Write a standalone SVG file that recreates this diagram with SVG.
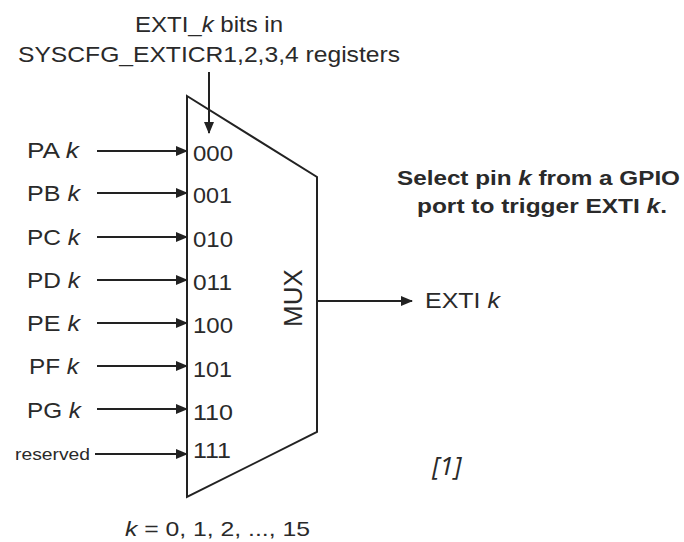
<svg xmlns="http://www.w3.org/2000/svg" width="684" height="542" viewBox="0 0 684 542">
<defs>
<marker id="ah" markerWidth="12" markerHeight="10" refX="11" refY="5" orient="auto" markerUnits="userSpaceOnUse">
<path d="M0,0 L12,5 L0,10 Z" fill="#222"/>
</marker>
<style>
text{font-family:"Liberation Sans",Arial,sans-serif;fill:#2a2a2a}
.lbl{font-size:22px}
.code{font-size:22px}
.ln{stroke:#222;stroke-width:2;fill:none}
.b{font-weight:bold;font-size:20px}
</style>
</defs>
<rect width="684" height="542" fill="#fff"/>
<g id="title">
<text x="135" y="32" style="font-size:22px" textLength="148" lengthAdjust="spacingAndGlyphs">EXTI_<tspan font-style="italic">k</tspan> bits in</text>
<text x="18" y="62" style="font-size:22px" textLength="382" lengthAdjust="spacingAndGlyphs">SYSCFG_EXTICR1,2,3,4 registers</text>
</g>
<g id="mux">
<path class="ln" d="M187,96 L317,177 L317,432 L187,497 Z"/>
<text transform="translate(302,298) rotate(-90)" text-anchor="middle" style="font-size:26px">MUX</text>
<text class="code" x="193" y="161" textLength="40" lengthAdjust="spacingAndGlyphs">000</text>
<text class="code" x="193" y="203" textLength="39" lengthAdjust="spacingAndGlyphs">001</text>
<text class="code" x="193" y="247" textLength="40" lengthAdjust="spacingAndGlyphs">010</text>
<text class="code" x="193" y="290" textLength="39" lengthAdjust="spacingAndGlyphs">011</text>
<text class="code" x="193" y="333" textLength="40" lengthAdjust="spacingAndGlyphs">100</text>
<text class="code" x="193" y="377" textLength="39" lengthAdjust="spacingAndGlyphs">101</text>
<text class="code" x="193" y="420" textLength="40" lengthAdjust="spacingAndGlyphs">110</text>
<text class="code" x="193" y="458" textLength="38" lengthAdjust="spacingAndGlyphs">111</text>
</g>
<g id="inputs">
<text class="lbl" x="27" y="158" textLength="52" lengthAdjust="spacingAndGlyphs">PA <tspan font-style="italic">k</tspan></text>
<text class="lbl" x="27" y="201" textLength="53" lengthAdjust="spacingAndGlyphs">PB <tspan font-style="italic">k</tspan></text>
<text class="lbl" x="27" y="245" textLength="53" lengthAdjust="spacingAndGlyphs">PC <tspan font-style="italic">k</tspan></text>
<text class="lbl" x="27" y="288" textLength="53" lengthAdjust="spacingAndGlyphs">PD <tspan font-style="italic">k</tspan></text>
<text class="lbl" x="27" y="331" textLength="53" lengthAdjust="spacingAndGlyphs">PE <tspan font-style="italic">k</tspan></text>
<text class="lbl" x="29" y="374" textLength="50" lengthAdjust="spacingAndGlyphs">PF <tspan font-style="italic">k</tspan></text>
<text class="lbl" x="27" y="418" textLength="54" lengthAdjust="spacingAndGlyphs">PG <tspan font-style="italic">k</tspan></text>
<text x="15" y="460" style="font-size:17px" textLength="75" lengthAdjust="spacingAndGlyphs">reserved</text>
</g>
<g id="output">
<text class="lbl" x="425" y="308" textLength="75" lengthAdjust="spacingAndGlyphs">EXTI <tspan font-style="italic">k</tspan></text>
</g>
<g id="connectors">
<line class="ln" x1="209" y1="72" x2="209" y2="133" marker-end="url(#ah)"/>
<line class="ln" x1="97" y1="151" x2="187" y2="151" marker-end="url(#ah)"/>
<line class="ln" x1="97" y1="193" x2="187" y2="193" marker-end="url(#ah)"/>
<line class="ln" x1="97" y1="237" x2="187" y2="237" marker-end="url(#ah)"/>
<line class="ln" x1="97" y1="280" x2="187" y2="280" marker-end="url(#ah)"/>
<line class="ln" x1="97" y1="323" x2="187" y2="323" marker-end="url(#ah)"/>
<line class="ln" x1="97" y1="366" x2="187" y2="366" marker-end="url(#ah)"/>
<line class="ln" x1="97" y1="409" x2="187" y2="409" marker-end="url(#ah)"/>
<line class="ln" x1="95" y1="454" x2="187" y2="454" marker-end="url(#ah)"/>
<line class="ln" x1="317" y1="301" x2="412" y2="301" marker-end="url(#ah)"/>
</g>
<g id="note">
<text class="b" x="397" y="185" textLength="283" lengthAdjust="spacingAndGlyphs">Select pin <tspan font-style="italic">k</tspan> from a GPIO</text>
<text class="b" x="417" y="213" textLength="250" lengthAdjust="spacingAndGlyphs">port to trigger EXTI <tspan font-style="italic">k</tspan>.</text>
</g>
<g id="ref">
<text x="432" y="475" style="font-size:26px;font-style:italic;font-family:'Open Sans','Liberation Sans',sans-serif">[1]</text>
</g>
<g id="range">
<text x="125" y="536" style="font-size:21px" textLength="185" lengthAdjust="spacingAndGlyphs"><tspan font-style="italic">k</tspan> = 0, 1, 2, ..., 15</text>
</g>
</svg>
